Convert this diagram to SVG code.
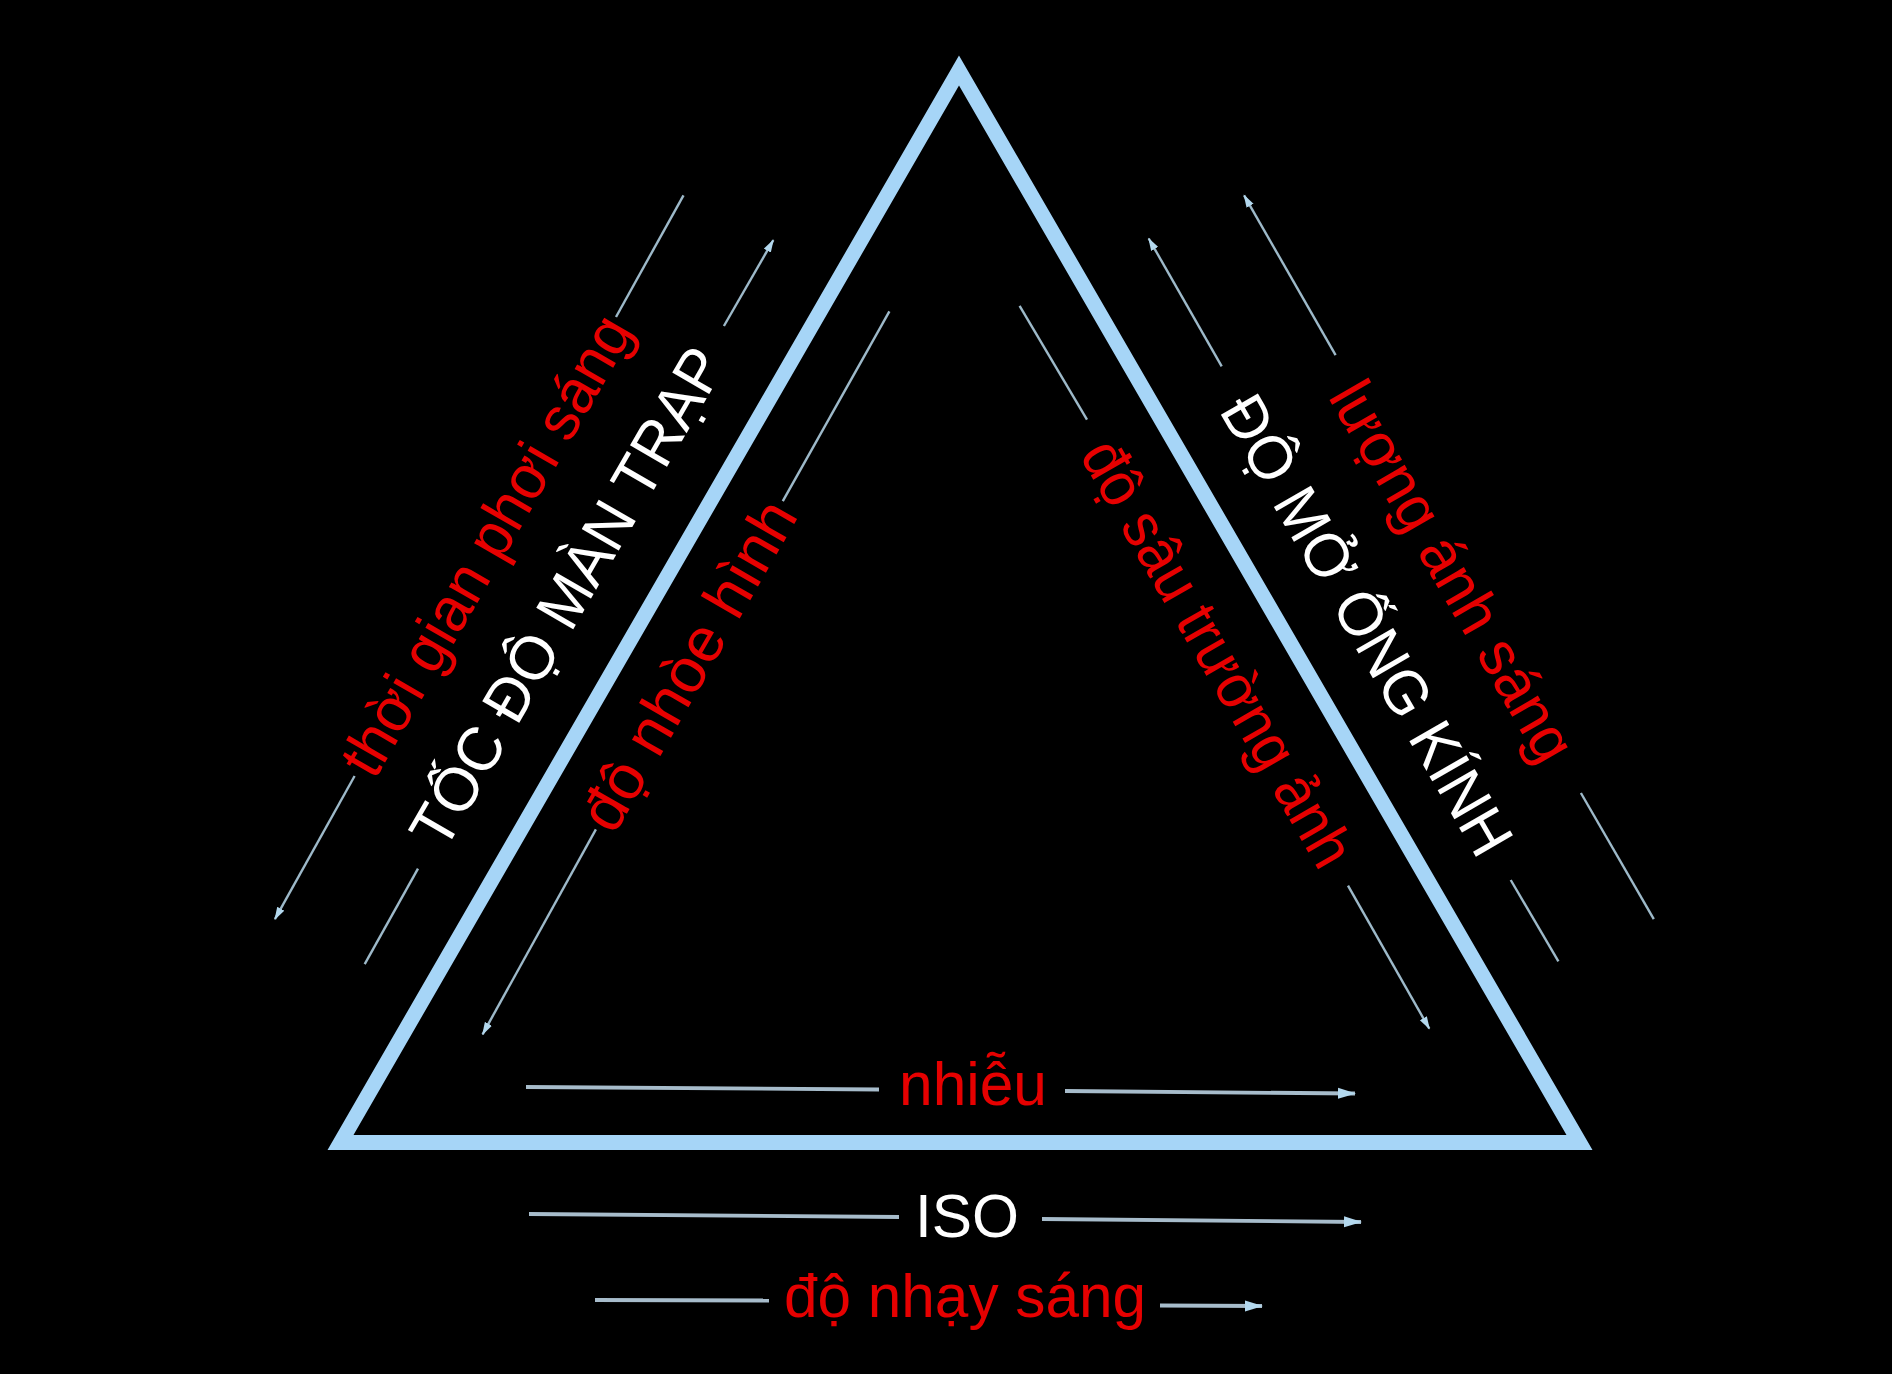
<svg xmlns="http://www.w3.org/2000/svg" width="1892" height="1374" viewBox="0 0 1892 1374">
  <style>
    .lbl { font-family: "Liberation Sans", Arial, sans-serif; font-size: 62px; text-anchor: middle; }
    .red { fill: #e60000; }
    .wht { fill: #ffffff; }
    .diag { stroke: #9db9c9; stroke-width: 2.4; fill: none; }
    .base { stroke: #a7bccb; stroke-width: 3.8; fill: none; }
    .tri { fill: none; stroke: #a6d5f7; stroke-width: 15; stroke-linejoin: miter; stroke-miterlimit: 10; }
  </style>
  <defs>
    <marker id="ah" markerUnits="userSpaceOnUse" markerWidth="13" markerHeight="9" refX="12" refY="4.5" orient="auto">
      <path d="M0,0.5 L13,4.5 L0,8.5 z" fill="#b3d8ee"/>
    </marker>
    <marker id="ahb" markerUnits="userSpaceOnUse" markerWidth="18" markerHeight="12" refX="17" refY="6" orient="auto">
      <path d="M0,0.5 L18,6 L0,11.5 z" fill="#b3d8ee"/>
    </marker>
  </defs>
  <rect x="0" y="0" width="1892" height="1374" fill="#000000"/>

  <g id="triangle">
    <polygon class="tri" points="959,70.5 340.5,1142.5 1579.5,1142.5"/>
  </g>

  <g id="connectors">
    <line class="diag" x1="683.5" y1="195.3" x2="616" y2="317"/>
    <line class="diag" x1="354.6" y1="776" x2="274.9" y2="919.2" marker-end="url(#ah)"/>
    <line class="diag" x1="723.9" y1="326" x2="773.3" y2="240.2" marker-end="url(#ah)"/>
    <line class="diag" x1="418" y1="868.7" x2="364.7" y2="964.1"/>
    <line class="diag" x1="889.4" y1="311.4" x2="782.8" y2="501.1"/>
    <line class="diag" x1="595.9" y1="829.4" x2="482.6" y2="1034.3" marker-end="url(#ah)"/>
    <line class="diag" x1="1335.6" y1="355.2" x2="1244.1" y2="195.3" marker-end="url(#ah)"/>
    <line class="diag" x1="1580.9" y1="793" x2="1653.8" y2="919.2"/>
    <line class="diag" x1="1221.7" y1="366.4" x2="1148.7" y2="238.5" marker-end="url(#ah)"/>
    <line class="diag" x1="1510.7" y1="880" x2="1558.4" y2="961.3"/>
    <line class="diag" x1="1019.6" y1="305.8" x2="1087" y2="419.7"/>
    <line class="diag" x1="1348" y1="885.6" x2="1429.3" y2="1028.7" marker-end="url(#ah)"/>
    <line class="base" x1="526" y1="1087" x2="879" y2="1089.5"/>
    <line class="base" x1="1065" y1="1091" x2="1355" y2="1093.5" marker-end="url(#ahb)"/>
    <line class="base" x1="529" y1="1214" x2="899" y2="1217"/>
    <line class="base" x1="1042" y1="1219" x2="1361" y2="1222" marker-end="url(#ahb)"/>
    <line class="base" x1="595" y1="1300" x2="769" y2="1300.5"/>
    <line class="base" x1="1160" y1="1305.5" x2="1262" y2="1306" marker-end="url(#ahb)"/>
  </g>

  <g id="node-thoi-gian">
    <text class="lbl red" x="486" y="545" dominant-baseline="central" transform="rotate(-60 486 545)" textLength="520" lengthAdjust="spacingAndGlyphs">thời gian phơi sáng</text>
  </g>
  <g id="node-toc-do">
    <text class="lbl wht" x="567" y="597" dominant-baseline="central" transform="rotate(-60 567 597)" textLength="565" lengthAdjust="spacingAndGlyphs">TỐC ĐỘ MÀN TRẠP</text>
  </g>
  <g id="node-do-nhoe">
    <text class="lbl red" x="688" y="665" dominant-baseline="central" transform="rotate(-60 688 665)" textLength="370" lengthAdjust="spacingAndGlyphs">độ nhòe hình</text>
  </g>
  <g id="node-luong-anh-sang">
    <text class="lbl red" x="1453" y="571" dominant-baseline="central" transform="rotate(60 1453 571)" textLength="428" lengthAdjust="spacingAndGlyphs">lượng ánh sáng</text>
  </g>
  <g id="node-do-mo">
    <text class="lbl wht" x="1367" y="625" dominant-baseline="central" transform="rotate(60 1367 625)" textLength="520" lengthAdjust="spacingAndGlyphs">ĐỘ MỞ ỐNG KÍNH</text>
  </g>
  <g id="node-do-sau">
    <text class="lbl red" x="1218" y="653" dominant-baseline="central" transform="rotate(60 1218 653)" textLength="482" lengthAdjust="spacingAndGlyphs">độ sâu trường ảnh</text>
  </g>
  <g id="node-nhieu">
    <text class="lbl red" x="973" y="1105" textLength="148" lengthAdjust="spacingAndGlyphs">nhiễu</text>
  </g>
  <g id="node-iso">
    <text class="lbl wht" x="967" y="1237" textLength="104" lengthAdjust="spacingAndGlyphs">ISO</text>
  </g>
  <g id="node-do-nhay">
    <text class="lbl red" x="965" y="1317" textLength="362" lengthAdjust="spacingAndGlyphs">độ nhạy sáng</text>
  </g>
</svg>
